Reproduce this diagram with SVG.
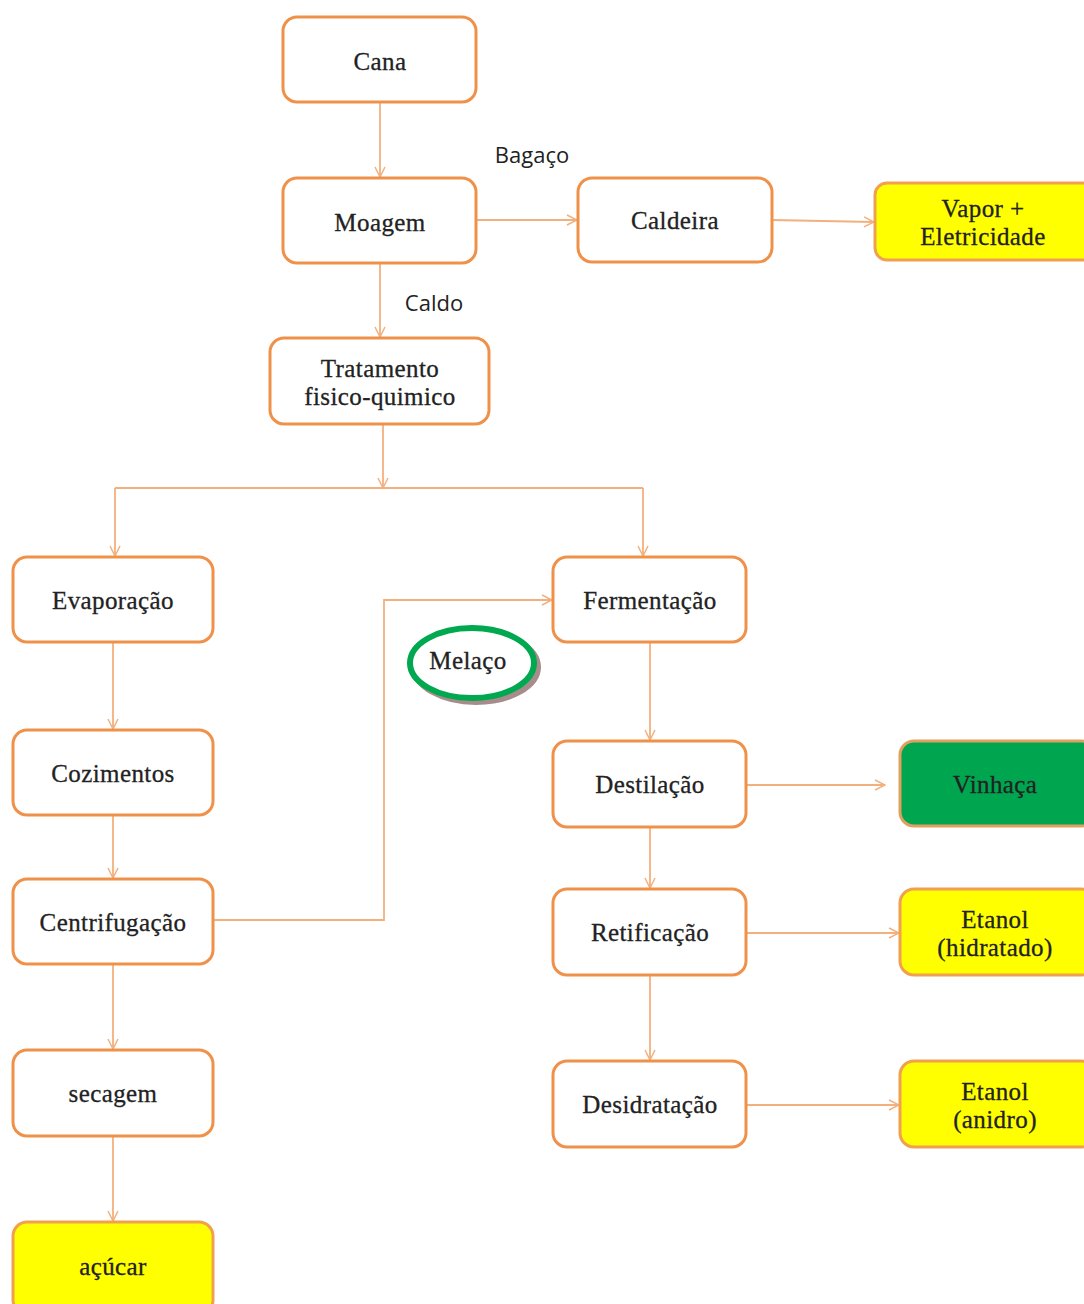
<svg xmlns="http://www.w3.org/2000/svg" width="1084" height="1304" viewBox="0 0 1084 1304">
<defs>
<marker id="ah" viewBox="0 0 12 12" refX="11" refY="6" markerWidth="12" markerHeight="12" markerUnits="userSpaceOnUse" orient="auto">
<path d="M1,1 L11,6 L1,11" fill="none" stroke="#f2b07e" stroke-width="1.5"/>
</marker>
</defs>
<style>
.box{fill:#fff;stroke:#f0914a;stroke-width:3}
.yel{fill:#ffff00;stroke:#f0a050;stroke-width:3}
.grn{fill:#00a54f;stroke:#e0a060;stroke-width:3}
.t{font-family:"Liberation Serif",serif;font-size:25px;fill:#222;text-anchor:middle;letter-spacing:0.4px;stroke:#222;stroke-width:0.3}
.s{font-family:"Open Sans","Liberation Sans",sans-serif;font-size:22px;fill:#222;text-anchor:middle}
.c{fill:none;stroke:#f2b07e;stroke-width:1.8;marker-end:url(#ah)}
.l{fill:none;stroke:#f2b07e;stroke-width:1.8}
</style>
<rect width="1084" height="1304" fill="#fff"/>
<g id="connectors">
<path class="c" d="M380,102 V177"/>
<path class="c" d="M476,220 H577"/>
<path class="c" d="M772,220 L874,222"/>
<path class="c" d="M380,263 V337"/>
<path class="c" d="M383,424 V488"/>
<path class="l" d="M115,488 H643"/>
<path class="c" d="M115,488 V556"/>
<path class="c" d="M643,488 V556"/>
<path class="c" d="M113,642 V729"/>
<path class="c" d="M113,815 V878"/>
<path class="c" d="M113,964 V1049"/>
<path class="c" d="M113,1136 V1221"/>
<path class="c" d="M213,920 H384 V600 H552"/>
<path class="c" d="M650,642 V740"/>
<path class="c" d="M746,785 H885"/>
<path class="c" d="M650,827 V888"/>
<path class="c" d="M746,933 H899"/>
<path class="c" d="M650,975 V1060"/>
<path class="c" d="M746,1105 H899"/>
</g>
<g id="cana"><rect class="box" x="283" y="17" width="193" height="85" rx="14"/><text class="t" x="380" y="70">Cana</text></g>
<g id="moagem"><rect class="box" x="283" y="178" width="193" height="85" rx="14"/><text class="t" x="380" y="231">Moagem</text></g>
<g id="caldeira"><rect class="box" x="578" y="178" width="194" height="84" rx="14"/><text class="t" x="675" y="229">Caldeira</text></g>
<g id="vapor"><rect class="yel" x="875" y="183" width="222" height="77" rx="12"/><text class="t" x="983" y="217">Vapor +</text><text class="t" x="983" y="245">Eletricidade</text></g>
<g id="tratamento"><rect class="box" x="270" y="338" width="219" height="86" rx="14"/><text class="t" x="380" y="377">Tratamento</text><text class="t" x="380" y="405">fisico-quimico</text></g>
<g id="evaporacao"><rect class="box" x="13" y="557" width="200" height="85" rx="14"/><text class="t" x="113" y="609">Evaporação</text></g>
<g id="fermentacao"><rect class="box" x="553" y="557" width="193" height="85" rx="14"/><text class="t" x="650" y="609">Fermentação</text></g>
<g id="cozimentos"><rect class="box" x="13" y="730" width="200" height="85" rx="14"/><text class="t" x="113" y="782">Cozimentos</text></g>
<g id="centrifugacao"><rect class="box" x="13" y="879" width="200" height="85" rx="14"/><text class="t" x="113" y="931">Centrifugação</text></g>
<g id="secagem"><rect class="box" x="13" y="1050" width="200" height="86" rx="14"/><text class="t" x="113" y="1102">secagem</text></g>
<g id="acucar"><rect class="yel" x="13" y="1222" width="200" height="92" rx="14"/><text class="t" x="113" y="1275">açúcar</text></g>
<g id="destilacao"><rect class="box" x="553" y="741" width="193" height="86" rx="14"/><text class="t" x="650" y="793">Destilação</text></g>
<g id="vinhaca"><rect class="grn" x="900" y="741" width="195" height="85" rx="14"/><text class="t" x="995" y="793">Vinhaça</text></g>
<g id="retificacao"><rect class="box" x="553" y="889" width="193" height="86" rx="14"/><text class="t" x="650" y="941">Retificação</text></g>
<g id="etanol-hidratado"><rect class="yel" x="900" y="889" width="195" height="86" rx="14"/><text class="t" x="995" y="928">Etanol</text><text class="t" x="995" y="956">(hidratado)</text></g>
<g id="desidratacao"><rect class="box" x="553" y="1061" width="193" height="86" rx="14"/><text class="t" x="650" y="1113">Desidratação</text></g>
<g id="etanol-anidro"><rect class="yel" x="900" y="1061" width="195" height="86" rx="14"/><text class="t" x="995" y="1100">Etanol</text><text class="t" x="995" y="1128">(anidro)</text></g>
<g id="labels">
<text class="s" x="532" y="163">Bagaço</text>
<text class="s" x="434" y="311">Caldo</text>
</g>
<g id="melaco">
<ellipse cx="476" cy="667" rx="62" ry="35" fill="none" stroke="#a88c8c" stroke-width="6"/>
<ellipse cx="472" cy="663" rx="62" ry="35" fill="#fff" stroke="#00a84f" stroke-width="6"/>
<text class="t" x="468" y="669">Melaço</text>
</g>
</svg>
